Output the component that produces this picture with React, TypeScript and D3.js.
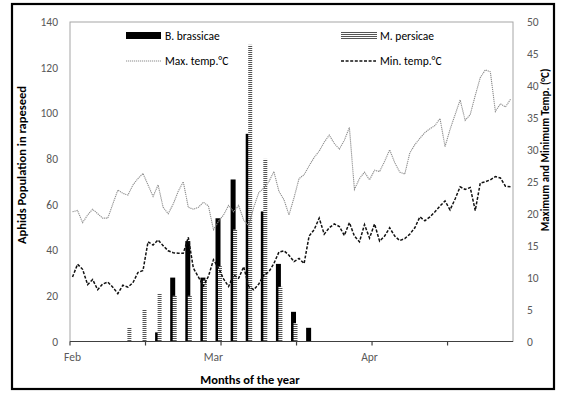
import * as d3 from 'd3';
import React from 'react';

// daily categories, Feb 1 .. Apr 29
const days = d3.timeDay.range(new Date(2021, 1, 1), new Date(2021, 3, 30));
const fmt = d3.timeFormat('%m-%d');
const dayKeys = days.map(fmt);

const maxTemp = [
  20.3, 20.5, 18.6, 19.8, 20.7, 20.0, 19.3, 19.3, 21.5, 23.7,
  23.2, 22.9, 24.5, 25.5, 26.3, 24.5, 22.7, 24.5, 21.0, 20.0,
  21.5, 23.5, 25.0, 21.0, 20.7, 21.0, 21.8, 21.2, 17.5, 18.8,
  19.8, 21.3, 20.3, 21.3, 19.0, 18.1, 21.0, 23.3, 24.0, 25.0,
  26.6, 23.5, 22.2, 19.8, 22.5, 25.5, 26.1, 27.5, 28.8, 29.8,
  31.2, 32.3, 31.0, 30.1, 31.5, 33.5, 23.8, 25.5, 26.5, 25.3,
  26.8, 26.6, 28.2, 30.0, 28.0, 26.5, 26.2, 29.5, 30.8, 31.8,
  32.7, 33.3, 33.8, 34.9, 30.5, 33.2, 35.5, 37.8, 34.6, 35.5,
  38.5, 41.3, 42.5, 42.2, 36.0, 37.2, 36.7, 37.9,
];

const minTemp = [
  10.1, 12.1, 11.3, 8.9, 9.7, 8.1, 9.0, 9.3, 8.5, 7.5,
  8.8, 8.5, 9.2, 10.8, 11.1, 15.6, 15.1, 15.9, 15.0, 14.2,
  13.9, 13.8, 13.8, 16.3, 11.5, 10.1, 8.7, 10.2, 12.8, 11.5,
  9.8, 8.6, 10.4, 9.9, 11.7, 8.6, 8.1, 9.0, 10.4, 10.9,
  12.2, 14.0, 14.2, 13.5, 12.5, 13.0, 12.2, 16.5, 17.5, 19.3,
  16.8, 17.8, 18.4, 18.0, 16.6, 18.6, 16.5, 15.6, 18.3, 16.2,
  18.4, 15.7, 16.5, 17.8, 16.5, 15.8, 16.1, 16.8, 17.8, 19.5,
  18.9, 19.5, 20.3, 21.2, 22.0, 20.6, 22.3, 24.2, 23.8, 24.1,
  20.5, 24.8, 25.0, 25.3, 25.8, 25.6, 24.3, 24.2,
];

// sampling dates for aphid counts
const sampleDates = ['02-12', '02-15', '02-18', '02-21', '02-24', '02-27', '03-02', '03-05', '03-08', '03-11', '03-14', '03-17', '03-20'];
const brassicae = [0, 0, 4, 28, 44, 28, 54, 71, 91, 57, 34, 13, 6];
const persicae = [6, 14, 21, 20, 20, 27, 33, 49, 130, 80, 24, 8, 0];

const leftTicks = [0, 20, 40, 60, 80, 100, 120, 140];
const rightTicks = [0, 5, 10, 15, 20, 25, 30, 35, 40, 45, 50];
const tickMarkDates = ['02-01', '02-16', '03-03', '03-18', '04-02', '04-17'];
const monthLabelDates = ['02-01', '03-01', '04-01'];
const monthLabels = ['Feb', 'Mar', 'Apr'];

const W = 569;
const H = 394;
const left = 70, right = 513, top = 22, bottom = 341.5;
const font = 'Carlito, Lato, "Liberation Sans", sans-serif';
const grey = '#595959';

export default function App() {
  const x = d3.scaleBand().domain(dayKeys).range([left, right]);
  const cx = (k: string) => (x(k) as number) + x.bandwidth() / 2;
  const yL = d3.scaleLinear().domain([0, 140]).range([bottom, top]);
  const yR = d3.scaleLinear().domain([0, 50]).range([bottom, top]);

  const line = d3.line<number>()
    .x((_, i) => cx(dayKeys[i]))
    .y(d => yR(d));

  return (
    <div style={{ position: 'absolute', left: 0, top: 0 }}>
      <svg width={W} height={H} style={{ display: 'block', background: '#fff' }} fontFamily={font}>
        <defs>
          <pattern id="stripe" width="6" height="2" patternUnits="userSpaceOnUse">
            <rect width="6" height="2" fill="#ffffff" />
            <rect width="6" height="1" fill="#555555" />
          </pattern>
        </defs>
        <rect x={12} y={4} width={542} height={385} fill="#fff" stroke="#000" strokeWidth={2.2} />

        {/* plot frame */}
        <rect x={left} y={top} width={right - left} height={bottom - top} fill="none" stroke="#a6a6a6" strokeWidth={1} />

        {/* bars */}
        {sampleDates.map((d, i) => (
          <rect key={'b' + d} x={cx(d) - 3} width={5} y={yL(brassicae[i])}
            height={bottom - yL(brassicae[i])} fill="#000" />
        ))}
        {sampleDates.map((d, i) => (
          <rect key={'p' + d} x={cx(d) - 0.5} width={4} y={yL(persicae[i])}
            height={bottom - yL(persicae[i])} fill="url(#stripe)" />
        ))}

        {/* temperature lines */}
        <path d={line(maxTemp) || ''} fill="none" stroke="#8c8c8c" strokeWidth={1.1} strokeDasharray="1.2 0.8" />
        <path d={line(minTemp) || ''} fill="none" stroke="#111" strokeWidth={1.5} strokeDasharray="3 1.6" />

        {/* x axis */}
        <line x1={left} x2={right} y1={bottom} y2={bottom} stroke="#404040" strokeWidth={1.2} />
        {tickMarkDates.map(d => (
          <line key={d} x1={x(d)} x2={x(d)} y1={bottom} y2={bottom + 4} stroke="#404040" strokeWidth={1.2} />
        ))}
        {monthLabelDates.map((d, i) => (
          <text key={d} x={cx(d)} y={361} textAnchor="middle" fontSize={11.5} fill={grey}>{monthLabels[i]}</text>
        ))}

        {/* y axes labels */}
        {leftTicks.map(t => (
          <text key={t} x={58} y={yL(t)} dy="0.35em" textAnchor="end" fontSize={11.5} fill={grey}>{t}</text>
        ))}
        {rightTicks.map(t => (
          <text key={t} x={527} y={yR(t)} dy="0.35em" textAnchor="start" fontSize={11.5} fill={grey}>{t}</text>
        ))}

        {/* titles */}
        <text transform="translate(26,165) rotate(-90)" textAnchor="middle" fontSize={12.5} fontWeight="bold" fill="#000">Aphids Population in rapeseed</text>
        <text transform="translate(549,150) rotate(-90)" textAnchor="middle" fontSize={11} fontWeight="bold" fill="#000">Maximum and Minimum Temp. (°C)</text>
        <text x={250} y={384} textAnchor="middle" fontSize={12.5} fontWeight="bold" fill="#000">Months of the year</text>

        {/* legend */}
        <rect x={126} y={32} width={35} height={7} fill="#000" />
        <text x={165} y={35.5} dy="0.35em" fontSize={11.5} fill="#000">B. brassicae</text>
        <line x1={126} x2={161} y1={61} y2={61} stroke="#8c8c8c" strokeWidth={1.1} strokeDasharray="1.2 0.8" />
        <text x={165} y={61} dy="0.35em" fontSize={11.5} fill="#000">Max. temp.°C</text>
        <rect x={341} y={32} width={36} height={7} fill="url(#stripe)" />
        <text x={380} y={35.5} dy="0.35em" fontSize={11.5} fill="#000">M. persicae</text>
        <line x1={341} x2={376} y1={61} y2={61} stroke="#111" strokeWidth={1.5} strokeDasharray="3 1.6" />
        <text x={380} y={61} dy="0.35em" fontSize={11.5} fill="#000">Min. temp.°C</text>
      </svg>
    </div>
  );
}
